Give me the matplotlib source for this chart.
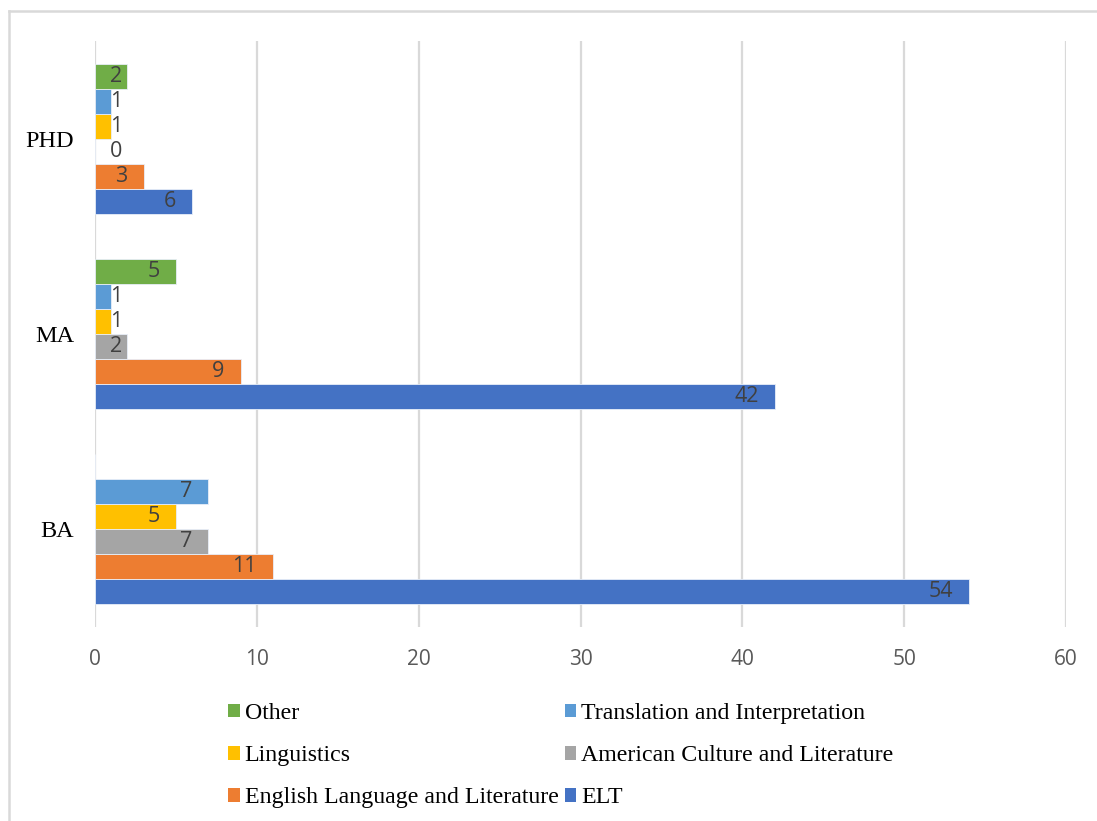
import matplotlib.pyplot as plt
import numpy as np
from matplotlib.lines import Line2D
from matplotlib.patches import Patch

# data
degrees = ['BA', 'MA', 'PHD']
series  = ['ELT', 'English Language and Literature', 'American Culture and Literature',
           'Linguistics', 'Translation and Interpretation', 'Other']
elt         = [54, 42, 6]
eng_lit     = [11, 9, 3]
am_culture  = [7, 2, 0]
linguistics = [5, 1, 1]
translation = [7, 1, 1]
other       = [np.nan, 5, 2]   # BA has no "Other" entry

colors = ['#4472C4', '#ED7D31', '#A5A5A5', '#FFC000', '#5B9BD5', '#70AD47']
values = [elt, eng_lit, am_culture, linguistics, translation, other]

label_col = '#404040'
tick_col  = '#595959'
grid_col  = '#d9d9d9'

fig = plt.figure(figsize=(10.97, 8.21), dpi=100)
ax = fig.add_axes([95/1097, 1 - 627/821, (1066 - 95)/1097, (627 - 41)/821])

y = np.arange(len(degrees))
h = 0.128
offsets = (np.arange(len(series)) - 2.5) * h

for vals, col, off, name in zip(values, colors, offsets, series):
    vals = np.array(vals, dtype=float)
    ax.barh(y + off, np.nan_to_num(vals), height=h, color=col,
            edgecolor='#e8eef8', linewidth=0.6, label=name, zorder=3)
    for yi, v in zip(y, vals):
        if np.isnan(v):
            continue
        ax.text(max(v - 1.0, 1.7), yi + off, f'{int(v)}', ha='right', va='center',
                fontsize=15.5, color=label_col, family='Open Sans', zorder=4)

ax.set_xlim(0, 60)
ax.set_ylim(-0.5, 2.5)
ax.set_xticks(np.arange(0, 61, 10))
ax.set_yticks(y)
ax.set_yticklabels(degrees, family='Liberation Serif', fontsize=17.5, color='black')
for t in ax.get_xticklabels():
    t.set_family('Open Sans')
ax.tick_params(axis='x', length=0, pad=16, labelsize=15, colors=tick_col)
ax.tick_params(axis='y', length=0, pad=15)
ax.grid(axis='x', color=grid_col, linewidth=1.6, zorder=0)
for s in ax.spines.values():
    s.set_visible(False)

# legend (column-major fill)
order = [5, 3, 1, 4, 2, 0]
handles = [Patch(facecolor=colors[i], edgecolor='none') for i in order]
labels = [series[i] for i in order]
fig.legend(handles, labels, ncol=2, loc='upper left',
           bbox_to_anchor=(216/1097, 1 - 691/821), frameon=False,
           prop={'family': 'Liberation Serif', 'size': 17.2},
           handlelength=0.5, handleheight=0.5, handletextpad=0.2,
           columnspacing=0.25, labelspacing=0.89, borderpad=0)

# outer chart border (left and top visible)
fig.add_artist(Line2D([9/1097, 9/1097], [0, 1 - 11/821], color='#d9d9d9', lw=1.8))
fig.add_artist(Line2D([9/1097, 1], [1 - 11/821, 1 - 11/821], color='#d9d9d9', lw=1.8))

fig.savefig('out.png', dpi=100, facecolor='white')
